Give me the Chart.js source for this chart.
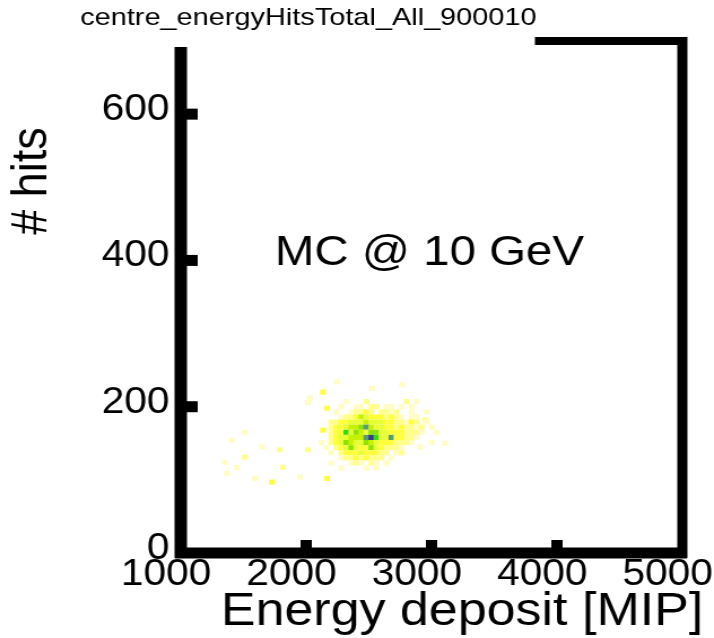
<!DOCTYPE html>
<html>
<head>
<meta charset="utf-8">
<script src="https://cdn.jsdelivr.net/npm/chart.js@4.4.0/dist/chart.umd.min.js"></script>
<style>
  html, body { margin: 0; padding: 0; background: #fff; overflow: hidden; }
  /* the plot is drawn a bit narrow and stretched sideways, like the exported bitmap */
  #wrap { width: 632px; height: 638px; transform: scaleX(1.1297); transform-origin: 0 0; }
</style>
</head>
<body>
<div id="wrap"><canvas id="hits2d" width="632" height="638"></canvas></div>
<script>
const histName = 'centre_energyHitsTotal_All_900010';
const xTitle = 'Energy deposit [MIP]';
const yTitle = '# hits';
const runLabel = 'MC @ 10 GeV';

const xTicks = [1000, 2000, 3000, 4000, 5000];
const yTicks = [0, 200, 400, 600];

// [energy deposit (MIP), number of hits, entries in bin]
const cells = [
  // sparse tail at low energy
  [1351, 124, 1], [1367, 109, 1], [1407, 154, 1], [1447, 117, 1], [1511, 165, 1], [1511, 131, 2],
  [1591, 102, 1], [1647, 145, 1], [1727, 97, 3], [1790, 141, 2], [1814, 117, 2], [1950, 104, 1],
  [2014, 141, 2], [2014, 206, 1], [2030, 212, 1], [2134, 220, 3], [2166, 198, 3], [2134, 168, 3],
  [2166, 102, 3], [2245, 234, 1], [2525, 225, 1], [2764, 230, 1], [2948, 182, 2], [3108, 150, 1],
  [2908, 145, 1], [3040, 165, 1], [3000, 151, 1], [3000, 172, 1],
  // main peak
  [2320, 207, 1], [2480, 207, 2], [2800, 207, 2], [2880, 207, 1],
  [2280, 200, 1], [2400, 200, 1], [2440, 200, 1], [2520, 200, 2], [2560, 200, 2], [2640, 200, 1],
  [2680, 200, 1], [2760, 200, 1], [2840, 200, 1],
  [2240, 193, 1], [2360, 193, 1], [2400, 193, 2], [2440, 193, 2], [2480, 193, 3], [2520, 193, 2],
  [2600, 193, 2], [2640, 193, 2], [2680, 193, 1], [2720, 193, 2], [2840, 193, 1], [2960, 193, 1],
  [2280, 186, 1], [2320, 186, 2], [2360, 186, 2], [2400, 186, 3], [2440, 186, 5], [2480, 186, 4],
  [2520, 186, 3], [2560, 186, 3], [2600, 186, 3], [2640, 186, 2], [2680, 186, 3], [2720, 186, 2],
  [2760, 186, 1], [2840, 186, 1], [2880, 186, 1],
  [2200, 179, 2], [2240, 179, 2], [2280, 179, 3], [2320, 179, 3], [2360, 179, 4], [2400, 179, 4],
  [2440, 179, 4], [2480, 179, 5], [2520, 179, 4], [2560, 179, 4], [2600, 179, 4], [2640, 179, 3],
  [2680, 179, 3], [2720, 179, 2], [2760, 179, 2], [2800, 179, 1], [2840, 179, 3], [2880, 179, 2],
  [2960, 179, 1],
  [2200, 172, 2], [2240, 172, 3], [2280, 172, 3], [2320, 172, 4], [2360, 172, 5], [2400, 172, 5],
  [2440, 172, 6], [2480, 172, 8], [2520, 172, 5], [2560, 172, 4], [2600, 172, 4], [2640, 172, 3],
  [2680, 172, 3], [2720, 172, 2], [2760, 172, 3], [2800, 172, 2], [2840, 172, 2], [2880, 172, 1],
  [2920, 172, 2],
  [2200, 165, 2], [2240, 165, 3], [2280, 165, 3], [2320, 165, 7], [2360, 165, 4], [2400, 165, 6],
  [2440, 165, 5], [2480, 165, 4], [2520, 165, 6], [2560, 165, 6], [2600, 165, 4], [2640, 165, 4],
  [2680, 165, 3], [2720, 165, 3], [2760, 165, 3], [2800, 165, 2], [2840, 165, 2], [2880, 165, 2],
  [2920, 165, 1],
  [2200, 158, 2], [2240, 158, 3], [2280, 158, 4], [2320, 158, 4], [2360, 158, 5], [2400, 158, 5],
  [2440, 158, 5], [2480, 158, 8], [2520, 158, 10], [2560, 158, 7], [2600, 158, 4], [2640, 158, 4],
  [2680, 158, 8], [2720, 158, 3], [2760, 158, 3], [2800, 158, 2], [2840, 158, 2], [2880, 158, 1],
  [2120, 151, 1], [2200, 151, 2], [2240, 151, 3], [2280, 151, 4], [2320, 151, 6], [2360, 151, 5],
  [2400, 151, 4], [2440, 151, 4], [2480, 151, 6], [2520, 151, 5], [2560, 151, 4], [2600, 151, 3],
  [2640, 151, 3], [2680, 151, 3], [2720, 151, 2], [2760, 151, 2], [2800, 151, 2], [2840, 151, 1],
  [2160, 144, 1], [2240, 144, 2], [2280, 144, 3], [2320, 144, 4], [2360, 144, 6], [2400, 144, 4],
  [2440, 144, 3], [2480, 144, 3], [2520, 144, 6], [2560, 144, 4], [2600, 144, 3], [2640, 144, 2],
  [2680, 144, 2], [2720, 144, 2], [2760, 144, 1],
  [2200, 137, 1], [2280, 137, 2], [2320, 137, 3], [2360, 137, 3], [2400, 137, 3], [2440, 137, 4],
  [2480, 137, 3], [2520, 137, 3], [2560, 137, 3], [2600, 137, 2], [2640, 137, 2], [2720, 137, 1],
  [2760, 137, 2],
  [2280, 130, 1], [2320, 130, 2], [2360, 130, 2], [2400, 130, 3], [2440, 130, 2], [2480, 130, 3],
  [2520, 130, 2], [2560, 130, 2], [2600, 130, 2], [2680, 130, 1],
  [2200, 123, 1], [2360, 123, 1], [2400, 123, 2], [2440, 123, 1], [2520, 123, 2], [2560, 123, 1],
  [2640, 123, 1],
  [2280, 116, 1], [2480, 116, 1], [2560, 116, 1]
];

// colour for 1..10 entries
const palette = [
  '#fffdc4', '#ffff8a', '#ffff3c', '#e8ff38', '#c6f200',
  '#8ee400', '#30dc10', '#5c9a72', '#4a6a9c', '#3a3a8a'
];

const fontFamily = "'Liberation Sans', Arial, Helvetica, sans-serif";

// thick frame, tick stubs, stats-style title box and the text labels
const framePlugin = {
  id: 'frame',
  afterDatasetsDraw(chart) {
    const { ctx, chartArea: a, scales: { x, y } } = chart;
    ctx.save();
    ctx.strokeStyle = '#000';
    ctx.fillStyle = '#000';

    ctx.lineWidth = 11;
    ctx.beginPath();
    ctx.moveTo(a.left, a.top - 4);
    ctx.lineTo(a.left, a.bottom + 5);
    ctx.moveTo(a.left - 5, a.bottom);
    ctx.lineTo(a.right + 4, a.bottom);
    ctx.stroke();

    ctx.lineWidth = 9;
    ctx.beginPath();
    ctx.moveTo(a.right, a.top - 4);
    ctx.lineTo(a.right, a.bottom + 5);
    ctx.stroke();

    ctx.lineWidth = 8;
    ctx.beginPath();
    ctx.moveTo(a.left, a.top);
    ctx.lineTo(a.right + 4, a.top);
    ctx.stroke();

    yTicks.slice(1).forEach(v => {
      const py = y.getPixelForValue(v);
      ctx.fillRect(a.left, py - 5.5, 15, 11);
    });
    xTicks.slice(1, -1).forEach(v => {
      const px = x.getPixelForValue(v);
      ctx.fillRect(px - 5, a.bottom - 13, 10, 13);
    });

    // title box hides the top-left part of the frame
    ctx.fillStyle = '#fff';
    ctx.fillRect(0, 0, 473.5, 47);

    ctx.fillStyle = '#000';
    ctx.textBaseline = 'alphabetic';
    ctx.font = '24px ' + fontFamily;
    const w = ctx.measureText(histName).width;
    ctx.save();
    ctx.translate(71, 25);
    ctx.scale(404 / w, 1);
    ctx.fillText(histName, 0, 0);
    ctx.restore();

    ctx.font = '42px ' + fontFamily;
    ctx.textAlign = 'left';
    ctx.fillText(runLabel, x.getPixelForValue(1750), y.getPixelForValue(394));

    ctx.font = '46px ' + fontFamily;
    ctx.textAlign = 'center';
    ctx.fillText(xTitle, 409, 625);

    ctx.save();
    ctx.translate(29, 181);
    ctx.rotate(-Math.PI / 2);
    ctx.font = '45px ' + fontFamily;
    ctx.textBaseline = 'middle';
    ctx.fillText(yTitle, 0, 0);
    ctx.restore();

    ctx.restore();
  }
};

const tickFont = { family: fontFamily, size: 36 };

new Chart(document.getElementById('hits2d'), {
  type: 'scatter',
  data: {
    datasets: [{
      data: cells.map(c => ({ x: c[0], y: c[1] })),
      backgroundColor: cells.map(c => palette[c[2] - 1]),
      pointStyle: 'rect',
      pointRadius: 3.6,
      pointHoverRadius: 3.6,
      borderWidth: 0
    }]
  },
  options: {
    responsive: false,
    animation: false,
    devicePixelRatio: 1,
    events: [],
    layout: { padding: { top: 41, right: 28, left: 0, bottom: 0 } },
    plugins: { legend: { display: false }, tooltip: { enabled: false } },
    scales: {
      x: {
        type: 'linear',
        min: 1000,
        max: 5000,
        afterBuildTicks: s => { s.ticks = xTicks.map(v => ({ value: v })); },
        afterFit: s => { s.height = 85; s.paddingLeft = 0; s.paddingRight = 0; },
        grid: { display: false, drawTicks: false, tickLength: 0 },
        border: { display: false },
        ticks: {
          font: tickFont, color: '#000', padding: 0, labelOffset: -13,
          maxRotation: 0, autoSkip: false, callback: v => String(v)
        }
      },
      y: {
        type: 'linear',
        min: 0,
        max: 700,
        afterBuildTicks: s => { s.ticks = yTicks.map(v => ({ value: v })); },
        afterFit: s => { s.width = 160; s.paddingTop = 0; s.paddingBottom = 0; },
        grid: { display: false, drawTicks: false, tickLength: 0 },
        border: { display: false },
        ticks: {
          font: tickFont, color: '#000', padding: 10, labelOffset: -4,
          autoSkip: false, callback: v => String(v)
        }
      }
    }
  },
  plugins: [framePlugin]
});
</script>
</body>
</html>
